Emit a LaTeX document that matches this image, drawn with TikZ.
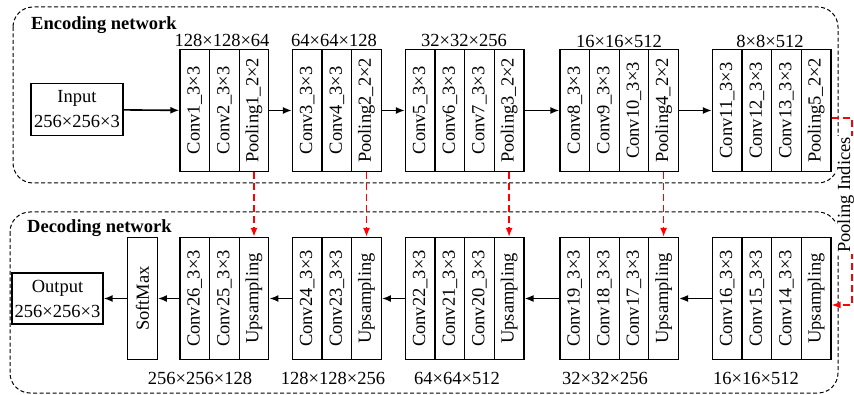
\documentclass[tikz,border=0pt]{standalone}
\usepackage{fontspec}
\setmainfont{Liberation Serif}
\usetikzlibrary{arrows.meta, positioning, calc}
\tikzset{
    % Box styles
    iobox/.style={
        rectangle,
        draw,
        line width=1.3pt,
        minimum width=92pt,
        minimum height=52pt,
        inner sep=0pt,
        align=center,
        font=\fontsize{18.5}{25}\selectfont
    },
    layerbox/.style={
        rectangle,
        draw,
        line width=1.3pt,
        rotate=90,
        minimum width=122pt,
        minimum height=29.6pt,
        inner sep=0pt,
        font=\fontsize{18.5}{22}\selectfont
    },
    netframe/.style={
        draw,
        dashed,
        dash pattern=on 4pt off 2.5pt,
        rounded corners=20pt,
        line width=1pt
    },
    % Label styles
    sizelabel/.style={
        inner sep=0pt,
        font=\fontsize{18.5}{22}\selectfont
    },
    titlelabel/.style={
        inner sep=0pt,
        anchor=base west,
        font=\bfseries\fontsize{18.5}{22}\selectfont
    },
    % Arrow styles
    myarrow/.style={
        -{Latex[length=9pt,width=7pt]},
        line width=1.6pt
    },
    indexarrow/.style={
        -{Latex[length=9pt,width=7pt]},
        line width=1.5pt,
        dash pattern=on 7pt off 4pt,
        red
    }
}
\begin{document}
\begin{tikzpicture}[x=1pt, y=-1pt]
    \useasboundingbox (0,0) rectangle (854,395);

    % frames
    \draw[netframe] (13,7) rectangle (838,183);
    \draw[netframe] (10,212) rectangle (838,393);
    \node[titlelabel] (enctitle) at (31,30) {Encoding network};
    \node[titlelabel] (dectitle) at (27,233) {Decoding network};

    % encoding network
    \node[iobox] (input) at (77,109.5) {Input\\256×256×3};
    \foreach \x/\n/\t in {194.8/conv1/Conv1\_3×3, 224.4/conv2/Conv2\_3×3, 254.0/pool1/Pooling1\_2×2,
            307.3/conv3/Conv3\_3×3, 336.9/conv4/Conv4\_3×3, 366.5/pool2/Pooling2\_2×2,
            420.3/conv5/Conv5\_3×3, 449.9/conv6/Conv6\_3×3, 479.5/conv7/Conv7\_3×3, 509.1/pool3/Pooling3\_2×2,
            574.8/conv8/Conv8\_3×3, 604.4/conv9/Conv9\_3×3, 634.0/conv10/Conv10\_3×3, 663.6/pool4/Pooling4\_2×2,
            727.3/conv11/Conv11\_3×3, 756.9/conv12/Conv12\_3×3, 786.5/conv13/Conv13\_3×3, 816.1/pool5/Pooling5\_2×2}
        \node[layerbox] (\n) at (\x,110.5) {\t};

    \node[sizelabel] (esize1) at (222,40) {128×128×64};
    \node[sizelabel] (esize2) at (334,40) {64×64×128};
    \node[sizelabel] (esize3) at (464,40) {32×32×256};
    \node[sizelabel] (esize4) at (619,41) {16×16×512};
    \node[sizelabel] (esize5) at (770,41) {8×8×512};

    \draw[myarrow] (input) -- (conv1);
    \draw[myarrow] (pool1) -- (conv3);
    \draw[myarrow] (pool2) -- (conv5);
    \draw[myarrow] (pool3) -- (conv8);
    \draw[myarrow] (pool4) -- (conv11);

    % decoding network
    \node[iobox, minimum width=91pt, minimum height=51pt] (output) at (57.5,298.5) {Output\\256×256×3};
    \node[layerbox] (softmax) at (142.5,298.5) {SoftMax};
    \foreach \x/\n/\t in {194.8/conv26/Conv26\_3×3, 224.4/conv25/Conv25\_3×3, 254.0/up1/Upsampling,
            307.3/conv24/Conv24\_3×3, 336.9/conv23/Conv23\_3×3, 366.5/up2/Upsampling,
            420.3/conv22/Conv22\_3×3, 449.9/conv21/Conv21\_3×3, 479.5/conv20/Conv20\_3×3, 509.1/up3/Upsampling,
            574.8/conv19/Conv19\_3×3, 604.4/conv18/Conv18\_3×3, 634.0/conv17/Conv17\_3×3, 663.6/up4/Upsampling,
            727.3/conv16/Conv16\_3×3, 756.9/conv15/Conv15\_3×3, 786.5/conv14/Conv14\_3×3, 816.1/up5/Upsampling}
        \node[layerbox] (\n) at (\x,298.5) {\t};

    \node[sizelabel] (dsize1) at (200,378) {256×256×128};
    \node[sizelabel] (dsize2) at (333,378) {128×128×256};
    \node[sizelabel] (dsize3) at (457,378) {64×64×512};
    \node[sizelabel] (dsize4) at (605,378) {32×32×256};
    \node[sizelabel] (dsize5) at (756,378) {16×16×512};

    \draw[myarrow] (conv16) -- (up4);
    \draw[myarrow] (conv19) -- (up3);
    \draw[myarrow] (conv22) -- (up2);
    \draw[myarrow] (conv24) -- (up1);
    \draw[myarrow] (conv26) -- (softmax);
    \draw[myarrow] (softmax) -- (output);

    % pooling indices
    \draw[indexarrow] (pool1.west) -- (up1.east);
    \draw[indexarrow] (pool2.west) -- (up2.east);
    \draw[indexarrow] (pool3.west) -- (up3.east);
    \draw[indexarrow] (pool4.west) -- (up4.east);
    \coordinate (idxtop) at (852,118);
    \coordinate (idxbot) at (852,305);
    \draw[indexarrow] (pool5.south |- idxtop) -- (idxtop) -- (idxbot) -- (up5.south |- idxbot);
    \node[sizelabel, rotate=90, anchor=base, fill=white, inner sep=1pt] (idxlabel) at (850,195) {Pooling Indices};
\end{tikzpicture}
\end{document}
